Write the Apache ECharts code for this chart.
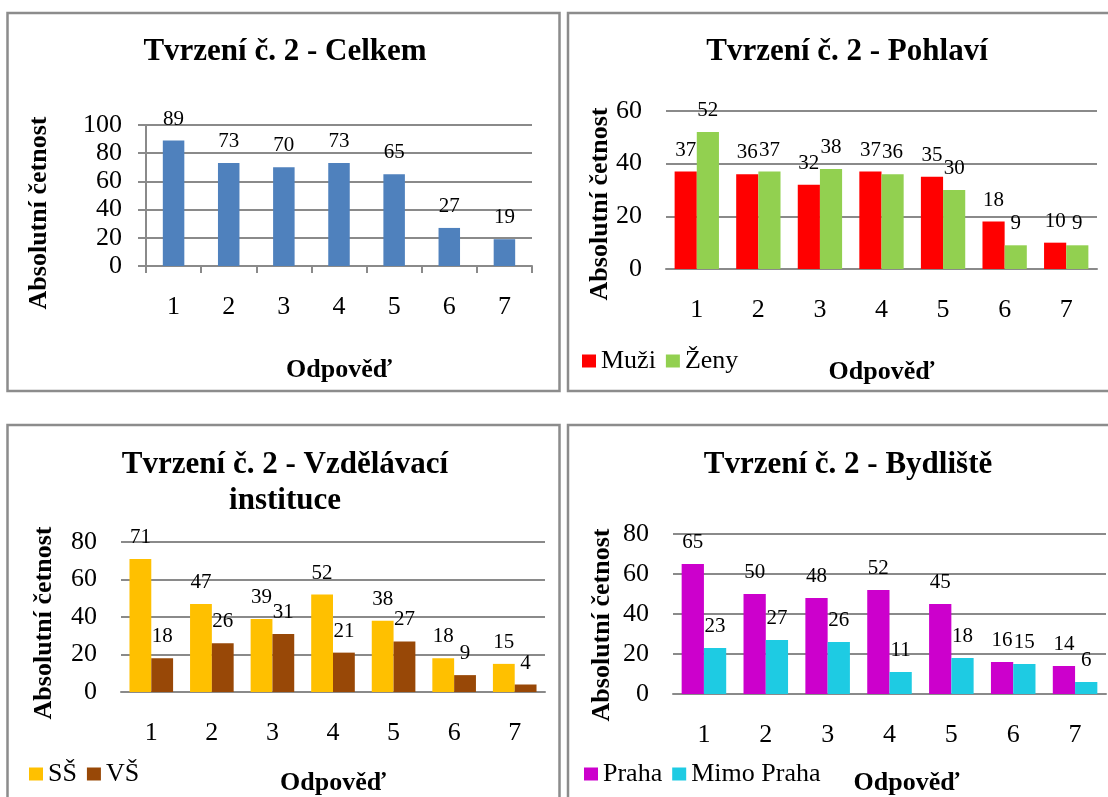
<!DOCTYPE html>
<html>
<head>
<meta charset="utf-8">
<title>Tvrzení č. 2</title>
<script src="https://cdn.jsdelivr.net/npm/echarts@6/dist/echarts.min.js"></script>
<style>
  html, body { margin: 0; padding: 0; background: #fff; }
  #chart { width: 1108px; height: 797px; }
</style>
</head>
<body>
<div id="chart"></div>
<script>
// odpovědi 1-7
const categories = ['1', '2', '3', '4', '5', '6', '7'];

// Celkem
const celkem = [89, 73, 70, 73, 65, 27, 19];
// Pohlaví
const muzi = [37, 36, 32, 37, 35, 18, 10];
const zeny = [52, 37, 38, 36, 30, 9, 9];
// Vzdělávací instituce
const ss = [71, 47, 39, 52, 38, 18, 15];
const vs = [18, 26, 31, 21, 27, 9, 4];
// Bydliště
const praha = [65, 50, 48, 52, 45, 16, 14];
const mimoPraha = [23, 27, 26, 11, 18, 15, 6];

const yMax = [100, 60, 80, 80];

const FONT = '"Liberation Serif", "Times New Roman", serif';
const GRID_COLOR = '#8a8a8a';

const chart = echarts.init(document.getElementById('chart'));

// pozice panelu
const grids = [
  { left: 146, right: 576, top: 125, bottom: 531 },
  { left: 666, right: 11, top: 111, bottom: 528 },
  { left: 121, right: 563, top: 542, bottom: 105 },
  { left: 673, right: 2, top: 534, bottom: 103 }
];
const xNameGap = [91, 90, 78, 76];

function makeX (i) {
  return {
    type: 'category',
    gridIndex: i,
    data: categories,
    axisLine: { show: true, lineStyle: { color: GRID_COLOR, width: 2 } },
    axisTick: { show: i === 0, length: 7, lineStyle: { color: GRID_COLOR, width: 2 } },
    axisLabel: { margin: 28, color: '#000', fontSize: 26, fontFamily: FONT },
    name: 'Odpověď',
    nameLocation: 'middle',
    nameGap: xNameGap[i],
    nameTextStyle: {
      color: '#000', fontSize: 26, fontWeight: 'bold', fontFamily: FONT,
      padding: i === 3 ? [0, 0, 0, 34] : 0
    }
  };
}

function makeY (i) {
  return {
    type: 'value',
    gridIndex: i,
    min: 0,
    max: yMax[i],
    interval: 20,
    axisLine: { show: i === 0, lineStyle: { color: GRID_COLOR, width: 2 } },
    axisTick: { show: i === 0, length: 8, lineStyle: { color: GRID_COLOR, width: 2 } },
    axisLabel: { margin: 24, color: '#000', fontSize: 26, fontFamily: FONT },
    splitLine: { lineStyle: { color: GRID_COLOR, width: 2 } }
  };
}

function makeBar (name, data, color, i, gap) {
  return {
    name: name,
    type: 'bar',
    xAxisIndex: i,
    yAxisIndex: i,
    data: data,
    barGap: '0%',
    barCategoryGap: gap,
    itemStyle: { color: color },
    label: {
      show: true,
      position: 'top',
      distance: 11,
      color: '#000',
      fontSize: 21,
      fontFamily: FONT
    }
  };
}

function legendAt (left, top, names) {
  return {
    left: left,
    top: top,
    orient: 'horizontal',
    icon: 'rect',
    itemWidth: 14,
    itemHeight: 13,
    itemGap: 10,
    padding: 0,
    selectedMode: false,
    data: names,
    textStyle: { color: '#000', fontSize: 26, lineHeight: 26, fontFamily: FONT }
  };
}

const titleStyle = { color: '#000', fontSize: 31, fontWeight: 'bold', fontFamily: FONT, lineHeight: 36 };

function yName (x, y) {
  return {
    type: 'text',
    x: x,
    y: y,
    rotation: Math.PI / 2,
    style: {
      text: 'Absolutní četnost',
      font: 'bold 26px ' + FONT,
      fill: '#000',
      align: 'center',
      verticalAlign: 'middle'
    }
  };
}

function frame (x, y, w, h) {
  return {
    type: 'rect',
    shape: { x: x, y: y, width: w, height: h },
    style: { fill: 'none', stroke: '#8c8c8c', lineWidth: 2.5 },
    silent: true
  };
}

chart.setOption({
  animation: false,
  backgroundColor: '#fff',
  title: [
    { text: 'Tvrzení č. 2 - Celkem', left: 285, top: 34, textAlign: 'center', padding: 0, textStyle: titleStyle },
    { text: 'Tvrzení č. 2 - Pohlaví', left: 847, top: 34, textAlign: 'center', padding: 0, textStyle: titleStyle },
    { text: 'Tvrzení č. 2 - Vzdělávací\ninstituce', left: 285, top: 447, textAlign: 'center', padding: 0, textStyle: titleStyle },
    { text: 'Tvrzení č. 2 - Bydliště', left: 848, top: 447, textAlign: 'center', padding: 0, textStyle: titleStyle }
  ],
  legend: [
    legendAt(582, 348, ['Muži', 'Ženy']),
    legendAt(29, 761, ['SŠ', 'VŠ']),
    legendAt(584, 761, ['Praha', 'Mimo Praha'])
  ],
  grid: grids,
  xAxis: [makeX(0), makeX(1), makeX(2), makeX(3)],
  yAxis: [makeY(0), makeY(1), makeY(2), makeY(3)],
  series: [
    makeBar('Celkem', celkem, '#4f81bd', 0, '61%'),
    makeBar('Muži', muzi, '#ff0000', 1, '28%'),
    makeBar('Ženy', zeny, '#92d050', 1, '28%'),
    makeBar('SŠ', ss, '#ffc000', 2, '28%'),
    makeBar('VŠ', vs, '#984807', 2, '28%'),
    makeBar('Praha', praha, '#cc00cc', 3, '28%'),
    makeBar('Mimo Praha', mimoPraha, '#1ecbe3', 3, '28%')
  ],
  graphic: [
    frame(7.5, 13, 552, 378),
    frame(568, 13, 560, 378),
    frame(7.5, 425, 552, 400),
    frame(568, 425, 560, 400),
    yName(39, 213),
    yName(600, 204),
    yName(44, 623),
    yName(602, 625)
  ]
});
</script>
</body>
</html>
